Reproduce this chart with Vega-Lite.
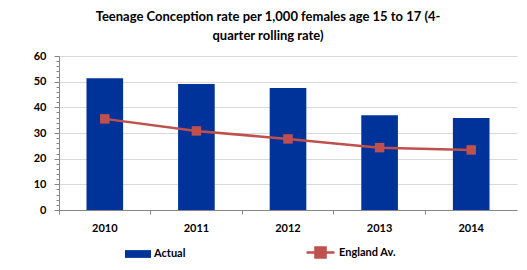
{
  "$schema": "https://vega.github.io/schema/vega-lite/v6.json",
  "width": 458,
  "height": 154,
  "autosize": {"type": "none"},
  "padding": {"left": 59, "top": 56, "right": 10, "bottom": 60},
  "background": "white",
  "title": {
    "text": ["Teenage Conception rate per 1,000 females age 15 to 17 (4-", "quarter rolling rate)"],
    "font": "Lato",
    "fontSize": 13,
    "fontWeight": "bold",
    "color": "#000000",
    "lineHeight": 19,
    "anchor": "middle",
    "dx": -20,
    "offset": 7
  },
  "config": {
    "view": {"stroke": null},
    "axis": {"labelFont": "Lato", "labelFontWeight": "bold", "labelFontSize": 11, "labelColor": "#000000", "domainColor": "#868686", "tickColor": "#868686", "title": null},
    "legend": {"labelFont": "Lato", "labelFontWeight": "bold", "labelFontSize": 11, "labelColor": "#000000", "padding": 0}
  },
  "data": {"values": [
    {"year": "2010", "actual": 51.3, "england": 35.5},
    {"year": "2011", "actual": 49.1, "england": 30.8},
    {"year": "2012", "actual": 47.5, "england": 27.7},
    {"year": "2013", "actual": 36.9, "england": 24.3},
    {"year": "2014", "actual": 35.8, "england": 23.4}
  ]},
  "resolve": {"axis": {"x": "independent", "y": "independent"}},
  "layer": [
    {
      "mark": {"type": "bar", "width": {"band": 0.4}},
      "encoding": {
        "x": {"field": "year", "type": "nominal", "scale": {"paddingInner": 0, "paddingOuter": 0},
              "axis": {"orient": "bottom", "labelAngle": 0, "ticks": false, "labelPadding": 12, "domainColor": "#868686"}},
        "y": {"field": "actual", "type": "quantitative", "scale": {"domain": [0, 60]},
              "axis": {"orient": "left", "values": [0, 10, 20, 30, 40, 50, 60], "tickSize": 5, "labelPadding": 8, "gridColor": "#d9d9d9", "grid": true}},
        "color": {"datum": "Actual", "scale": {"range": ["#003399"]},
                  "legend": {"orient": "none", "legendX": 66, "legendY": 185, "title": null, "symbolType": "M-1,-0.3H1V0.3H-1Z", "symbolSize": 676, "symbolStrokeWidth": 0, "labelOffset": 3}}
      }
    },
    {
      "mark": {"type": "line", "strokeWidth": 2.5},
      "encoding": {
        "x": {"field": "year", "type": "nominal",
              "axis": {"orient": "bottom", "bandPosition": 0, "labels": false, "domain": false, "tickSize": 4, "grid": false}},
        "y": {"field": "england", "type": "quantitative", "scale": {"domain": [0, 60]},
              "axis": {"orient": "left", "values": [0,2,4,6,8,10,12,14,16,18,20,22,24,26,28,30,32,34,36,38,40,42,44,46,48,50,52,54,56,58,60], "labels": false, "domain": false, "grid": false, "tickSize": 3}},
        "stroke": {"datum": "England Av.", "scale": {"range": ["#C0504D"]},
                   "legend": {"orient": "none", "legendX": 246, "legendY": 181, "title": null, "symbolType": "M-1,0H1M-0.36,-0.36H0.36V0.36H-0.36Z", "symbolSize": 784, "symbolStrokeWidth": 2.5, "symbolFillColor": "#C0504D", "labelOffset": 3,
                              "encode": {"symbols": {"update": {"fill": {"value": "#C0504D"}, "stroke": {"value": "#C0504D"}}}}}}
      }
    },
    {
      "mark": {"type": "point", "shape": "square", "filled": true, "size": 90, "color": "#C0504D", "opacity": 1},
      "encoding": {
        "x": {"field": "year", "type": "nominal", "axis": null},
        "y": {"field": "england", "type": "quantitative", "axis": null}
      }
    }
  ]
}
